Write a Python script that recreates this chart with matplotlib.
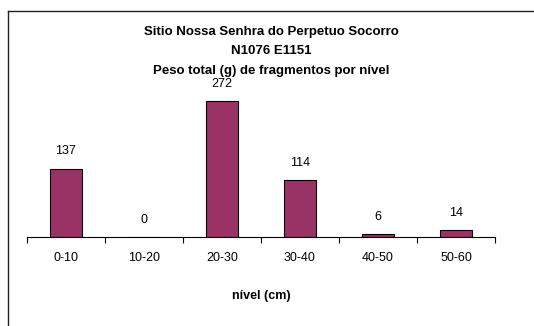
import matplotlib
matplotlib.use("Agg")
import matplotlib.pyplot as plt
from matplotlib.lines import Line2D

plt.rcParams['font.family'] = ['Liberation Sans', 'DejaVu Sans']

categories = ["0-10", "10-20", "20-30", "30-40", "40-50", "50-60"]
values = [137, 0, 272, 114, 6, 14]
title_lines = ["Sitio Nossa Senhra do Perpetuo Socorro", "N1076 E1151",
               "Peso total (g) de fragmentos por nível"]
xlabel = "nível (cm)"

W, H = 534, 326
fig = plt.figure(figsize=(W / 100, H / 100), dpi=100)
fig.patch.set_facecolor("white")

ax = fig.add_axes([27 / W, (H - 237) / H, (495 - 27) / W, 150 / H])
x = list(range(len(categories)))
ax.bar(x, values, width=0.41, color="#993366", edgecolor="black", linewidth=0.8)
ax.set_xlim(-0.5, len(categories) - 0.5)
ax.set_ylim(0, 300)
for s in ["left", "top", "right"]:
    ax.spines[s].set_visible(False)
ax.spines["bottom"].set_linewidth(0.8)
ax.set_yticks([])
ax.set_xticks(x)
ax.set_xticklabels(categories, fontsize=9)
ax.tick_params(axis="x", which="major", length=0, pad=11)
ax.set_xticks([i - 0.5 for i in range(len(categories) + 1)], minor=True)
ax.tick_params(axis="x", which="minor", length=4, width=0.8, direction="out")
for xi, v in zip(x, values):
    ax.annotate(str(v), (xi, v), xytext=(0, 8), textcoords="offset points",
                ha="center", va="bottom", fontsize=9)

ax.text(0.5, -0.39, xlabel, transform=ax.transAxes, ha="center", va="center",
        fontsize=9, fontweight="bold")

for i, t in enumerate(title_lines):
    fig.text(271 / W, 1 - (32 + 19.5 * i) / H, t, ha="center", va="center",
             fontsize=9.5, fontweight="bold")

fig.add_artist(Line2D([8 / W, 1], [1 - 11 / H, 1 - 11 / H], color="#222222", lw=1))
fig.add_artist(Line2D([8 / W, 8 / W], [1 - 11 / H, 0], color="#222222", lw=1))

fig.savefig("out.png", dpi=100)
